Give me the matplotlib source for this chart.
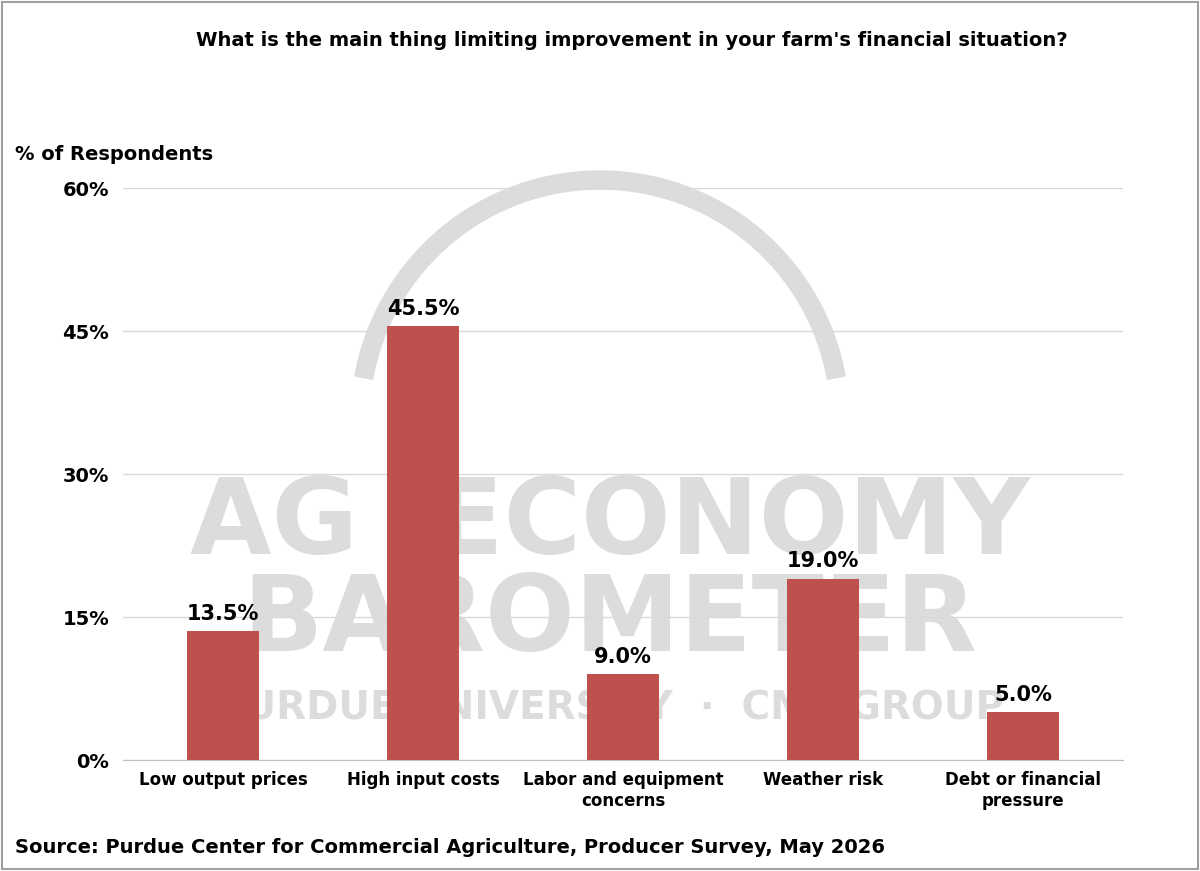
import matplotlib.pyplot as plt
from matplotlib.patches import Arc, Rectangle

categories = ["Low output prices", "High input costs", "Labor and equipment\nconcerns",
              "Weather risk", "Debt or financial\npressure"]
values = [13.5, 45.5, 9.0, 19.0, 5.0]
ticks = [0, 15, 30, 45, 60]

fig = plt.figure(figsize=(12, 8.71), dpi=100)

# faint watermark in a background axes (y inverted, so the arc angles are flipped)
bg = fig.add_axes([0, 0, 1, 1], zorder=-1)
bg.set_xlim(0, 1200)
bg.set_ylim(871, 0)
bg.axis("off")
wm = dict(color="#dcdcdc", fontweight="bold", ha="center", va="center")
bg.text(610, 525, "AG  ECONOMY", fontsize=76, **wm)
bg.text(610, 622, "BAROMETER", fontsize=76, **wm)
bg.text(610, 708, "PURDUE UNIVERSITY  ·  CME GROUP", fontsize=28, **wm)
bg.add_patch(Arc((600, 420), 480, 480, theta1=190, theta2=350, lw=14, color="#dcdcdc"))

ax = fig.add_axes([123 / 1200, 1 - 760 / 871, 1000 / 1200, 572 / 871])
ax.bar(range(len(values)), values, width=0.36, color="#c0504d", zorder=3)
for i, v in enumerate(values):
    ax.text(i, v + 0.8, f"{v:.1f}%", ha="center", va="bottom", fontsize=15,
            fontweight="bold", zorder=5)

ax.set_xlim(-0.5, len(values) - 0.5)
ax.set_ylim(0, 60)
ax.set_yticks(ticks)
ax.set_yticklabels([f"{t}%" for t in ticks], fontsize=14, fontweight="bold")
ax.set_xticks(range(len(values)))
ax.set_xticklabels(categories, fontsize=12, fontweight="bold")
ax.yaxis.grid(True, color="#d9d9d9", lw=1, zorder=0)
ax.tick_params(length=0, pad=10)
ax.tick_params(axis="x", pad=8)
for s in ["top", "right", "left"]:
    ax.spines[s].set_visible(False)
ax.spines["bottom"].set_color("#bfbfbf")
ax.patch.set_alpha(0)

fig.text(632 / 1200, 1 - 40 / 871, "What is the main thing limiting improvement in your farm's financial situation?",
         ha="center", va="center", fontsize=14, fontweight="bold")
fig.text(15 / 1200, 1 - 155 / 871, "% of Respondents", ha="left", va="center", fontsize=14, fontweight="bold")
fig.text(15 / 1200, 1 - 847 / 871, "Source: Purdue Center for Commercial Agriculture, Producer Survey, May 2026",
         ha="left", va="center", fontsize=14, fontweight="bold")
fig.patches.append(Rectangle((0.002, 0.002), 0.996, 0.996, fill=False, ec="#a0a0a0", lw=1.5,
                             transform=fig.transFigure))

fig.savefig("out.png", dpi=100)
